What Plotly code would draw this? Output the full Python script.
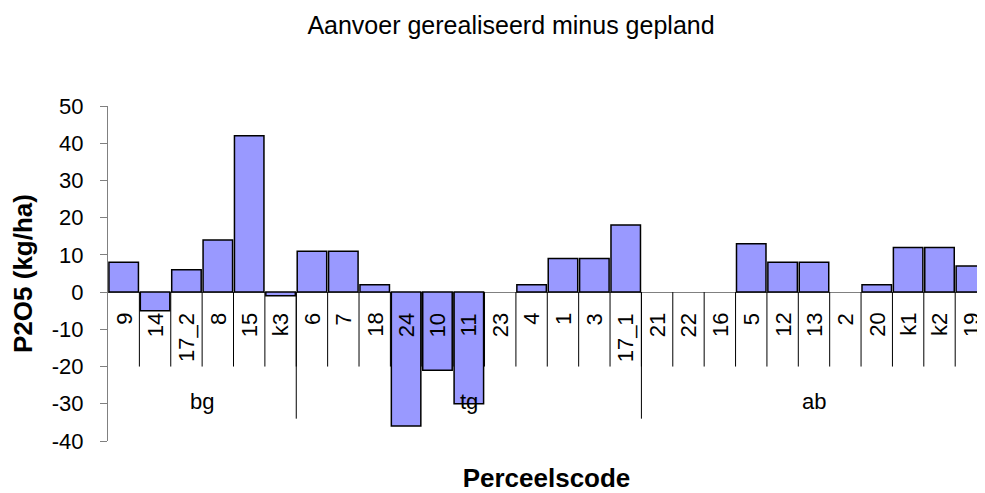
import plotly.graph_objects as go

# ---- data ----
categories = ["9", "14", "17_2", "8", "15", "k3",
              "6", "7", "18", "24", "10", "11", "23", "4", "1", "3", "17_1",
              "21", "22", "16", "5", "12", "13", "2", "20", "k1", "k2", "19"]
groups = ["bg"] * 6 + ["tg"] * 11 + ["ab"] * 11
values = [8, -5, 6, 14, 42, -1,
          11, 11, 2, -36, -21, -30, 0, 2, 9, 9, 18,
          0, 0, 0, 13, 8, 8, 0, 2, 12, 12, 7]
y_ticks = [-40, -30, -20, -10, 0, 10, 20, 30, 40, 50]
y_tick_labels = ["-40", "-30", "-20", "-10", "0", "10", "20", "30", "40", "50"]

FONT = "Liberation Sans, Arial, sans-serif"

fig = go.Figure()
fig.add_trace(go.Bar(
    x=list(range(len(categories))), y=values,
    text=categories, hoverinfo="y+text", textposition="none",
    marker=dict(color="#9999FF",
                line=dict(color="black", width=[0 if v == 0 else 1.5 for v in values])),
    showlegend=False,
))

annotations = []
shapes = []
# inner category labels and dividers
for i, c in enumerate(categories):
    annotations.append(dict(x=i, y=0, xref="x", yref="y", text=c, textangle=-90,
                            showarrow=False, xanchor="center", yanchor="top", yshift=-19,
                            font=dict(family=FONT, size=22, color="black")))
    if i < len(categories) - 1:
        shapes.append(dict(type="line", xref="x", yref="y", x0=i + 0.5, x1=i + 0.5,
                           y0=0, y1=-20, line=dict(color="black", width=1)))

# group labels and dividers
order = []
for g in groups:
    if g not in order:
        order.append(g)
for g in order:
    idx = [i for i, gg in enumerate(groups) if gg == g]
    mid = (idx[0] + idx[-1]) / 2
    annotations.append(dict(x=mid, y=-29.5, xref="x", yref="y", text=g, showarrow=False,
                            xanchor="center", yanchor="middle",
                            font=dict(family=FONT, size=22, color="black")))
    shapes.append(dict(type="line", xref="x", yref="y", x0=idx[-1] + 0.5, x1=idx[-1] + 0.5,
                       y0=0, y1=-34, line=dict(color="black", width=1)))

W, H = 977, 485
fig.update_layout(
    width=W, height=H,
    margin=dict(l=100, r=0, t=98, b=52),
    paper_bgcolor="white", plot_bgcolor="white",
    bargap=0.06,
    font=dict(family=FONT, color="black"),
    title=dict(text="Aanvoer gerealiseerd minus gepland", x=503 / W, xanchor="center",
               xref="container", y=1 - 17 / H, yref="container", yanchor="middle",
               font=dict(family=FONT, size=25, color="black")),
    xaxis=dict(range=[-0.5, 27.45], showticklabels=False, ticks="",
               showline=False, showgrid=False, zeroline=False, automargin=False,
               title=dict(text="<b>Perceelscode</b>", standoff=40,
                          font=dict(family=FONT, size=26, color="black"))),
    yaxis=dict(range=[-40, 50], tickvals=y_ticks, ticktext=y_tick_labels,
               ticks="outside", ticklen=7, automargin=False,
               tickcolor="#808080", showline=True, linecolor="#808080", linewidth=1,
               showgrid=False, zeroline=True, zerolinecolor="#808080", zerolinewidth=1,
               tickfont=dict(family=FONT, size=22, color="black"),
               ticklabelstandoff=12,
               title=dict(text="<b>P2O5 (kg/ha)</b>", standoff=12,
                          font=dict(family=FONT, size=26, color="black"))),
    annotations=annotations,
    shapes=shapes,
)

fig.write_html("out.html")
